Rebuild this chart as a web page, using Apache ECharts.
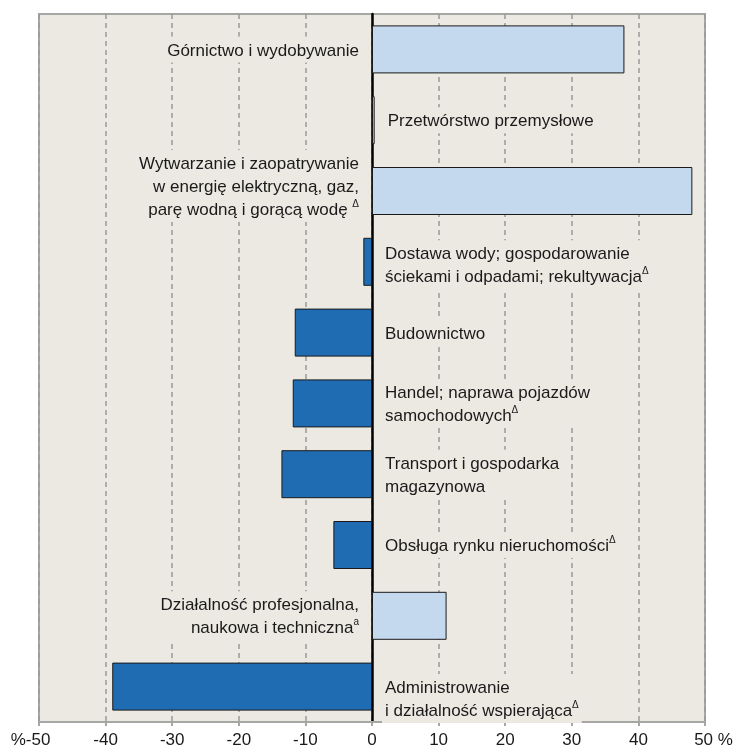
<!DOCTYPE html>
<html>
<head>
<meta charset="utf-8">
<script src="https://cdn.jsdelivr.net/npm/echarts@6/dist/echarts.min.js"></script>
<style>
html, body { margin: 0; padding: 0; background: #fff; }
#box { width: 738px; height: 749px; }
</style>
</head>
<body>
<div id="box"></div>
<script>
// sekcje, od góry
var categories = [
  "Górnictwo i wydobywanie",
  "Przetwórstwo przemysłowe",
  "Wytwarzanie i zaopatrywanie\nw energię elektryczną, gaz,\nparę wodną i gorącą wodę ",
  "Dostawa wody; gospodarowanie\nściekami i odpadami; rekultywacja",
  "Budownictwo",
  "Handel; naprawa pojazdów\nsamochodowych",
  "Transport i gospodarka\nmagazynowa",
  "Obsługa rynku nieruchomości",
  "Działalność profesjonalna,\nnaukowa i techniczna",
  "Administrowanie\ni działalność wspierająca"
];
var notes = ["", "", "Δ", "Δ", "", "Δ", "", "Δ", "a", "Δ"];
var values = [37.9, 0.4, 48.1, -1.3, -11.6, -11.9, -13.6, -5.8, 11.2, -39.0];

var myChart = echarts.init(document.getElementById("box"));

var data = values.map(function (v, i) {
  var onLeft = v > 5;
  var lbl = { position: onLeft ? "left" : "right", align: onLeft ? "right" : "left" };
  // etykiety w oryginale nie sa idealnie wysrodkowane
  if (i === 2) lbl.offset = [0, -5];
  if (i === 3) lbl.offset = [0, 3];
  if (i === 9) lbl.offset = [0, 12];
  return {
    value: v,
    itemStyle: { color: v < 0 ? "#1f6cb2" : "#c5d9ee" },
    label: lbl
  };
});

var option = {
  backgroundColor: "#fff",
  textStyle: { fontFamily: "Liberation Sans" },
  grid: {
    left: 39,
    right: 33,
    top: 14,
    bottom: 27,
    show: true,
    backgroundColor: "#ece9e2",
    borderColor: "#a6a6a6",
    borderWidth: 2
  },
  xAxis: {
    type: "value",
    min: -50,
    max: 50,
    interval: 10,
    axisLine: { show: true, onZero: false, lineStyle: { color: "#a6a6a6", width: 2 } },
    axisTick: { show: true, length: 4, lineStyle: { color: "#a6a6a6", width: 2 } },
    splitLine: { show: true, lineStyle: { color: "#999", width: 1.5, type: [5, 4] } },
    axisLabel: {
      margin: 10,
      fontSize: 17,
      color: "#1a1a1a",
      fontFamily: "Liberation Sans",
      formatter: function (v) {
        if (v === -50) return "%-50{p| }";
        if (v === 50) return "{p| }50 %";
        return String(v);
      },
      rich: { p: { width: 17, fontSize: 17 } }
    }
  },
  yAxis: {
    type: "category",
    inverse: true,
    data: categories,
    axisLine: { show: true, onZero: true, lineStyle: { color: "#000", width: 2.5 } },
    axisTick: { show: false },
    axisLabel: { show: false },
    splitLine: { show: false }
  },
  series: [
    {
      type: "bar",
      barWidth: 48,
      data: data,
      itemStyle: { borderColor: "#1a1a1a", borderWidth: 1 },
      label: {
        show: true,
        distance: 10,
        fontSize: 17,
        lineHeight: 23,
        color: "#1a1a1a",
        fontFamily: "Liberation Sans",
        backgroundColor: "#ece9e2",
        padding: [3, 3, 0, 3],
        formatter: function (p) {
          var n = notes[p.dataIndex];
          return categories[p.dataIndex] + (n ? "{s|" + n + "}" : "");
        },
        rich: {
          s: { fontSize: 10, lineHeight: 12, verticalAlign: "top", color: "#1a1a1a" }
        }
      }
    }
  ]
};
myChart.setOption(option);
</script>
</body>
</html>
